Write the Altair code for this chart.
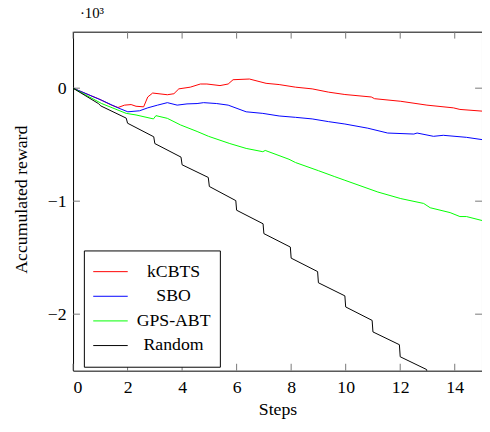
import altair as alt
import pandas as pd

# ---- data (y in thousands) ----
kcbts_x = [0, 0.69, 0.93, 1.41, 1.65, 1.89, 2.13, 2.31, 2.59, 2.74, 2.92, 3.46, 3.7, 3.88, 4.3, 4.67,
           4.91, 5.39, 5.69, 5.87, 6.47, 7.08, 7.56, 8.16, 8.77, 9.37, 9.97, 10.94, 11.06, 12.02,
           12.98, 13.95, 14.19, 15]
kcbts_y = [0, -0.07, -0.093, -0.15, -0.171, -0.15, -0.145, -0.16, -0.165, -0.078, -0.043, -0.058,
           -0.049, -0.006, 0.009, 0.037, 0.037, 0.023, 0.037, 0.075, 0.081, 0.043, 0.032, 0.009,
           -0.006, -0.035, -0.056, -0.078, -0.093, -0.116, -0.15, -0.174, -0.188, -0.203]

sbo_x = [0, 1.05, 1.65, 2.01, 2.44, 2.74, 3.1, 3.46, 3.82, 4.18, 4.55, 4.79, 5.27, 5.69, 6.35, 6.96,
         7.56, 8.16, 8.77, 9.37, 9.97, 10.81, 11.54, 12.5, 12.62, 13.22, 13.58, 14.43, 15]
sbo_y = [0, -0.107, -0.174, -0.209, -0.2, -0.174, -0.15, -0.128, -0.15, -0.139, -0.136, -0.128,
         -0.136, -0.15, -0.209, -0.223, -0.246, -0.258, -0.272, -0.296, -0.317, -0.354, -0.397,
         -0.406, -0.397, -0.426, -0.417, -0.435, -0.455]

gps_x = [0, 1.05, 1.95, 2.31, 2.95, 3.04, 3.46, 3.94, 4.55, 4.97, 5.75, 6.35, 6.96, 7.05, 7.92,
         8.16, 9.0, 9.6, 9.97, 11.18, 12.02, 12.86, 13.1, 13.83, 14.19, 14.43, 15]
gps_y = [0, -0.136, -0.223, -0.237, -0.272, -0.243, -0.267, -0.325, -0.383, -0.426, -0.49, -0.533,
         -0.562, -0.551, -0.629, -0.658, -0.73, -0.783, -0.815, -0.919, -0.977, -1.02, -1.058,
         -1.101, -1.136, -1.136, -1.171]

rand_x = [0, 0.93, 1.02, 1.95, 2.0, 2.96, 3.0, 3.96, 4.0, 4.96, 5.0, 5.97, 6.0, 6.97, 7.0, 7.97,
          8.0, 8.97, 9.0, 9.97, 10.0, 10.97, 11.0, 11.97, 12.0, 12.97, 13.0, 13.97, 14.0, 14.97, 15]
rand_y = [0, -0.136, -0.157, -0.265, -0.31, -0.43, -0.49, -0.61, -0.678, -0.79, -0.87, -0.995,
          -1.08, -1.2, -1.287, -1.406, -1.504, -1.623, -1.722, -1.838, -1.936, -2.055, -2.157,
          -2.27, -2.377, -2.49, -2.59, -2.71, -2.81, -2.93, -3.03]

series_names = ["kCBTS", "SBO", "GPS-ABT", "Random"]
series_colors = ["#ff0000", "#0000ff", "#00ff00", "#000000"]
x_ticks = [0, 2, 4, 6, 8, 10, 12, 14]
y_ticks = [-2, -1, 0]

rows = []
for name, xs, ys in [("kCBTS", kcbts_x, kcbts_y), ("SBO", sbo_x, sbo_y),
                     ("GPS-ABT", gps_x, gps_y), ("Random", rand_x, rand_y)]:
    for i, (a, b) in enumerate(zip(xs, ys)):
        rows.append({"series": name, "step": a, "reward": b, "order": i})
df = pd.DataFrame(rows)
xt = pd.DataFrame({"step": x_ticks})
yt = pd.DataFrame({"reward": y_ticks})

FONT = "Liberation Serif"
W, H = 415, 344
TL = 7
TC = "#777777"

xscale = alt.Scale(domain=[0, 15], nice=False, zero=False)
yscale = alt.Scale(domain=[-2.5, 0.5], nice=False, zero=False)

xaxis = alt.Axis(values=x_ticks, title="Steps", ticks=False, domain=False, grid=False,
                 labelPadding=8, titleX=W / 2, titleY=44, titleBaseline="alphabetic",
                 titleAlign="center")
yaxis = alt.Axis(values=y_ticks, format="d", title="Accumulated reward", ticks=False,
                 domain=False, grid=False, labelPadding=7, titleX=-47, titleY=170,
                 titleAngle=270, titleBaseline="alphabetic", titleAlign="center")

lines = alt.Chart(df).mark_line(clip=True, strokeWidth=1).encode(
    x=alt.X("step:Q", scale=xscale, axis=xaxis),
    y=alt.Y("reward:Q", scale=yscale, axis=yaxis),
    color=alt.Color("series:N", sort=series_names,
                    scale=alt.Scale(domain=series_names, range=series_colors),
                    legend=alt.Legend(title=None, orient="none", legendX=11, legendY=222,
                                      symbolType="stroke", symbolSize=1225, symbolStrokeWidth=1,
                                      labelFont=FONT, labelFontSize=18, labelAlign="center",
                                      labelOffset=46, strokeColor="#000000", padding=9,
                                      clipHeight=25, rowPadding=0, fillColor="#ffffff")),
    order="order:Q",
)

tb = alt.Chart(xt).mark_rule(color=TC, strokeWidth=1).encode(
    x=alt.X("step:Q", scale=xscale, axis=xaxis), y=alt.value(H), y2=alt.value(H - TL))
tt = alt.Chart(xt).mark_rule(color=TC, strokeWidth=1).encode(
    x=alt.X("step:Q", scale=xscale, axis=xaxis), y=alt.value(0), y2=alt.value(TL))
tl = alt.Chart(yt).mark_rule(color=TC, strokeWidth=1).encode(
    y=alt.Y("reward:Q", scale=yscale, axis=yaxis), x=alt.value(0), x2=alt.value(TL))
tr = alt.Chart(yt).mark_rule(color=TC, strokeWidth=1).encode(
    y=alt.Y("reward:Q", scale=yscale, axis=yaxis), x=alt.value(W), x2=alt.value(W - TL))

chart = alt.layer(tb, tt, tl, tr, lines).properties(
    width=W, height=H,
    background="#ffffff",
    autosize=alt.AutoSizeParams(type="none"),
    padding={"left": 66, "top": 21, "right": 0, "bottom": 46},
    title=alt.TitleParams(text="·10³", anchor="start", frame="group", dx=7, offset=-2,
                          baseline="alphabetic", font=FONT, fontSize=15, fontWeight="normal",
                          color="#000000"),
).configure_view(stroke="#000000", strokeWidth=1).configure_axis(
    labelFont=FONT, labelFontSize=18, titleFont=FONT, titleFontSize=18, titleFontWeight="normal",
    labelColor="#000000", titleColor="#000000",
)

chart.save("out.html", embed_options={"renderer": "svg", "actions": False})
